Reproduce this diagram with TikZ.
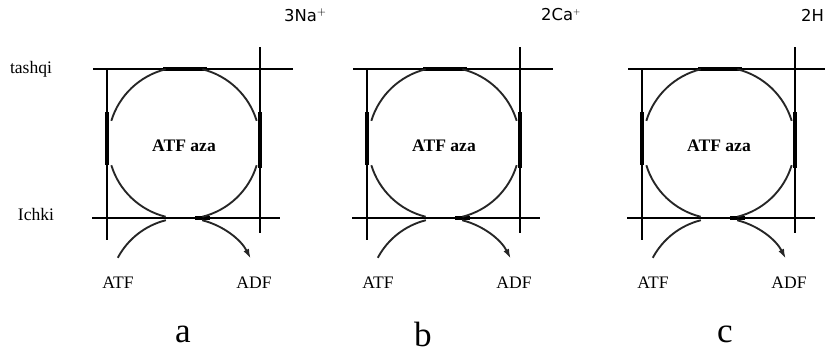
\documentclass[tikz,border=0pt]{standalone}
\usepackage{fontspec}
\setmainfont{Liberation Serif}
\newfontfamily\ionfont{DejaVu Sans}
\usetikzlibrary{arrows.meta}

\begin{document}
\begin{tikzpicture}[x=0.03cm,y=-0.03cm,
        ln/.style={line width=1.1pt},
        thk/.style={line width=2.8pt},
        ring/.style={line width=1.6pt,black!85},
        t/.style={font=\fontsize{15}{16}\selectfont},
        ion/.style={font=\ionfont\fontsize{14}{15}\selectfont,anchor=west},
        f/.style={-{Latex[length=3mm,width=1.8mm]}}]
        \useasboundingbox (0,0) rectangle (825,354);
        \node[t] (tashqi) at (31,69) {tashqi};
        \node[t] (ichki) at (36,214) {Ichki};
        \node[ion] (na) at (280,15) {3Na$^{+}$};
        \node[ion] (ca) at (537,15) {2Ca$^{\scriptscriptstyle +}$};
        \node[ion] (h) at (797,15) {2H};
        \foreach \cx/\lt/\lx in {184/a/-1,444/b/-21,719/c/6}{
          \begin{scope}[shift={(\cx,0)}]
            % membrana chiziqlari
            \draw[ln] (-91,69) -- (109,69);
            \draw[ln] (-92,218) -- (96,218);
            \draw[ln] (-77,69) -- (-77,240);
            \draw[ln] (76,47) -- (76,233);
            \draw[line width=2.6pt] (-21,69) -- (23,69);
            \draw[line width=2.6pt] (11,218) -- (26,218);
            \draw[thk] (-77,112) -- (-77,165);
            \draw[thk] (76,112) -- (76,168);
            % halqa
            \draw[ring] ([shift={(17:76)}]0,143) arc[start angle=17,end angle=76,radius=76];
            \draw[ring] ([shift={(104:76)}]0,143) arc[start angle=104,end angle=163,radius=76];
            \draw[ring] ([shift={(197:76)}]0,143) arc[start angle=197,end angle=256,radius=76];
            \draw[ring] ([shift={(284:76)}]0,143) arc[start angle=284,end angle=343,radius=76];
            \draw[ring] ([shift={(208:75)}]0,293) arc[start angle=208,end angle=256,radius=75];
            \draw[ring,f] ([shift={(284:75)}]0,293) arc[start angle=284,end angle=333,radius=75];
            \node[font=\bfseries\fontsize{15}{16}\selectfont] (aza-\lt) at (0,146) {ATF aza};
            \node[t] (atf-\lt) at (-66,283) {ATF};
            \node[t] (adf-\lt) at (70,283) {ADF};
            \node[font=\fontsize{30}{32}\selectfont] (lbl-\lt) at (\lx,334) {\lt};
          \end{scope}
        }
      \end{tikzpicture}
\end{document}
